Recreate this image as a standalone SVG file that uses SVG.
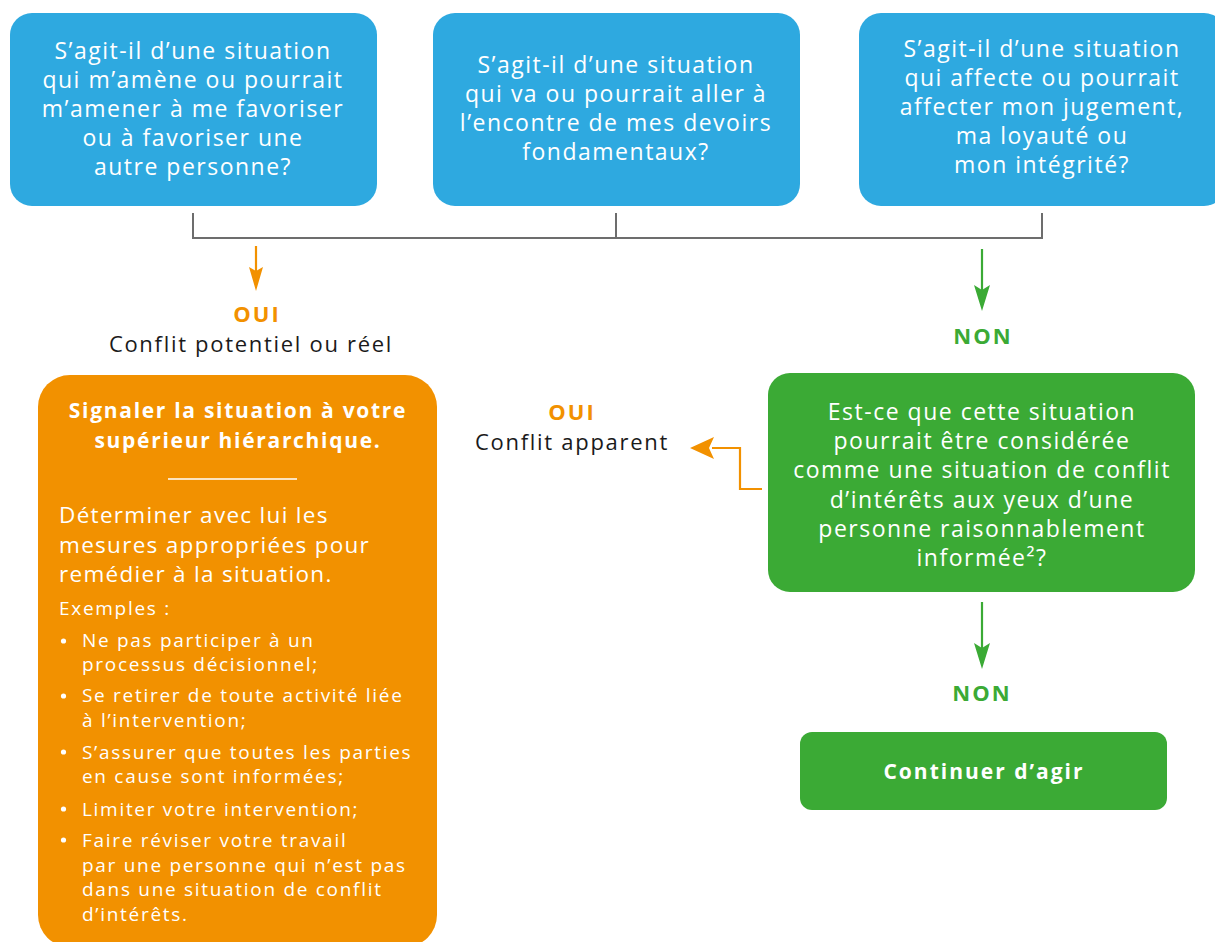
<svg xmlns="http://www.w3.org/2000/svg" width="1215" height="942" viewBox="0 0 1215 942">
<style>
.t{font-family:"Open Sans","Liberation Sans",sans-serif;}
.q{fill:#fff;font-size:23px;letter-spacing:1.5px;text-anchor:middle;}
.b{fill:#2ea9e0;}
.o{fill:#f29100;}
.g{fill:#3baa35;}
.lbl{font-size:22px;font-weight:700;letter-spacing:2px;text-anchor:middle;}
.blk{fill:#1a1a1a;font-size:22px;letter-spacing:1.7px;text-anchor:middle;}
.w{fill:#fff;}
.li{fill:#fff;font-size:19px;letter-spacing:1.7px;}
</style>
<rect width="1215" height="942" fill="#fff"/>
<g id="connectors" fill="none">
<path d="M193,213 V238 H1042 V213 M616,213 V238" stroke="#6d6d6d" stroke-width="2"/>
<line x1="256" y1="246" x2="256" y2="274" stroke="#f29100" stroke-width="2.2"/>
<path d="M256,291 L249,267 L256,271 L263,267 Z" fill="#f29100"/>
<line x1="982" y1="249" x2="982" y2="292" stroke="#3baa35" stroke-width="2.2"/>
<path d="M982,311 L974,285 L982,290 L990,285 Z" fill="#3baa35"/>
<path d="M762,489 H740 V448 H712" stroke="#f29100" stroke-width="2.2"/>
<path d="M690,448 L714,437 L709,448 L714,459 Z" fill="#f29100"/>
<line x1="982" y1="602" x2="982" y2="650" stroke="#3baa35" stroke-width="2.2"/>
<path d="M982,669 L974,643 L982,648 L990,643 Z" fill="#3baa35"/>
</g>
<g id="q1">
<rect x="10" y="13" width="367" height="193" rx="22" class="b"/>
<text class="t q"><tspan x="193" y="59">S’agit-il d’une situation</tspan><tspan x="193" y="88">qui m’amène ou pourrait</tspan><tspan x="193" y="117">m’amener à me favoriser</tspan><tspan x="193" y="146">ou à favoriser une</tspan><tspan x="193" y="175">autre personne?</tspan></text>
</g>
<g id="q2">
<rect x="433" y="13" width="367" height="193" rx="22" class="b"/>
<text class="t q"><tspan x="616" y="73">S’agit-il d’une situation</tspan><tspan x="616" y="102">qui va ou pourrait aller à</tspan><tspan x="616" y="131">l’encontre de mes devoirs</tspan><tspan x="616" y="160">fondamentaux?</tspan></text>
</g>
<g id="q3">
<rect x="859" y="13" width="367" height="193" rx="22" class="b"/>
<text class="t q"><tspan x="1042" y="57">S’agit-il d’une situation</tspan><tspan x="1042" y="86">qui affecte ou pourrait</tspan><tspan x="1042" y="115">affecter mon jugement,</tspan><tspan x="1042" y="144">ma loyauté ou</tspan><tspan x="1042" y="173">mon intégrité?</tspan></text>
</g>
<g id="oui1">
<text class="t lbl o" x="257" y="322">OUI</text>
<text class="t blk" x="251" y="352">Conflit potentiel ou réel</text>
</g>
<g id="non1">
<text class="t lbl g" x="983" y="344">NON</text>
</g>
<g id="action">
<rect x="38" y="375" width="399" height="572" rx="32" class="o"/>
<text class="t w" font-size="21" font-weight="700" letter-spacing="1.7" text-anchor="middle"><tspan x="238" y="418">Signaler la situation à votre</tspan><tspan x="238" y="448">supérieur hiérarchique.</tspan></text>
<line x1="168" y1="479" x2="297" y2="479" stroke="#fff" stroke-width="1.5"/>
<text class="t w" font-size="22.5" letter-spacing="1.3"><tspan x="59" y="523">Déterminer avec lui les</tspan><tspan x="59" y="553">mesures appropriées pour</tspan><tspan x="59" y="582">remédier à la situation.</tspan></text>
<text class="t li" x="59" y="615" letter-spacing="2.2">Exemples :</text>
<g class="w"><circle cx="63.5" cy="641" r="2.6"/><circle cx="63.5" cy="696" r="2.6"/><circle cx="63.5" cy="752" r="2.6"/><circle cx="63.5" cy="809" r="2.6"/><circle cx="63.5" cy="840" r="2.6"/></g>
<text class="t li" x="82" y="647">Ne pas participer à un</text>
<text class="t li" x="82" y="671">processus décisionnel;</text>
<text class="t li" x="82" y="702">Se retirer de toute activité liée</text>
<text class="t li" x="82" y="727">à l’intervention;</text>
<text class="t li" x="82" y="759">S’assurer que toutes les parties</text>
<text class="t li" x="82" y="783">en cause sont informées;</text>
<text class="t li" x="82" y="816">Limiter votre intervention;</text>
<text class="t li" x="82" y="847">Faire réviser votre travail</text>
<text class="t li" x="82" y="872">par une personne qui n’est pas</text>
<text class="t li" x="82" y="896">dans une situation de conflit</text>
<text class="t li" x="82" y="921">d’intérêts.</text>
</g>
<g id="oui2">
<text class="t lbl o" x="572" y="420">OUI</text>
<text class="t blk" x="572" y="450">Conflit apparent</text>
</g>
<g id="q4">
<rect x="768" y="373" width="427" height="219" rx="22" class="g"/>
<text class="t q"><tspan x="982" y="420">Est-ce que cette situation</tspan><tspan x="982" y="449">pourrait être considérée</tspan><tspan x="982" y="478">comme une situation de conflit</tspan><tspan x="982" y="508">d’intérêts aux yeux d’une</tspan><tspan x="982" y="537">personne raisonnablement</tspan><tspan x="982" y="566">informée²?</tspan></text>
</g>
<g id="non2">
<text class="t lbl g" x="982" y="701">NON</text>
</g>
<g id="continuer">
<rect x="800" y="732" width="367" height="78" rx="12" class="g"/>
<text class="t w" x="984" y="779" font-size="21" font-weight="700" letter-spacing="2" text-anchor="middle">Continuer d’agir</text>
</g>
</svg>
